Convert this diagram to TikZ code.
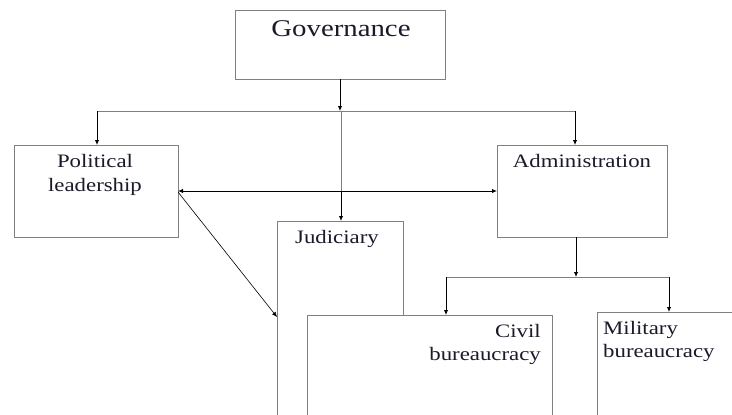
\documentclass[tikz,border=0pt]{standalone}
\usepackage{fontspec}
\setmainfont{Liberation Serif}[FakeStretch=1.2]
\usetikzlibrary{arrows.meta}
\definecolor{boxgray}{HTML}{808080}
\definecolor{txt}{HTML}{1A1A2A}
\tikzset{
  x=1pt, y=1pt,
  box/.style={draw=boxgray, line width=0.9pt, fill=white, inner sep=0pt, outer sep=0pt},
  lbl/.style={anchor=base, inner sep=0pt, text=txt, font=\fontsize{19}{22}\selectfont},
  big/.style={anchor=base, inner sep=0pt, text=txt, font=\fontsize{24}{28}\selectfont},
  conn/.style={draw=black, line width=0.9pt},
  feed/.style={draw=gray, line width=0.7pt},
  arr/.style={conn, -{Latex[length=5pt,width=4.5pt]}},
  darr/.style={conn, {Latex[length=5pt,width=4.5pt]}-{Latex[length=5pt,width=4.5pt]}},
}
\begin{document}
\begin{tikzpicture}
\useasboundingbox (0,0) rectangle (732,-415);
\clip (0,0) rectangle (732,-415);
% boxes
\node[box, minimum width=210, minimum height=69] (gov) at (340,-44.5) {};
\node[box, minimum width=164, minimum height=92] (pol) at (96,-191) {};
\node[box, minimum width=170, minimum height=92] (adm) at (582,-191) {};
\node[box, minimum width=126, minimum height=240] (jud) at (340,-341) {};
\node[box, minimum width=245, minimum height=140] (civ) at (429.5,-385) {};
\node[box, minimum width=170, minimum height=140] (mil) at (682,-382) {};
% texts
\node[big] (tgov) at (341,-36) {Governance};
\node[lbl] (tpol1) at (95,-167) {Political};
\node[lbl] (tpol2) at (95,-191) {leadership};
\node[lbl] (tadm) at (582,-167) {Administration};
\node[lbl] (tjud) at (337,-243) {Judiciary};
\node[lbl, anchor=base east] (tciv1) at (541,-337) {Civil};
\node[lbl, anchor=base east] (tciv2) at (541,-360) {bureaucracy};
\node[lbl, anchor=base west] (tmil1) at (603,-334) {Military};
\node[lbl, anchor=base west] (tmil2) at (603,-357) {bureaucracy};
% junction coordinates
\coordinate (g1) at (340,-111);
\coordinate (gl) at (97,-111);
\coordinate (gr) at (575,-111);
\coordinate (gm) at (341,-191);
\coordinate (a1) at (576,-277);
\coordinate (al) at (446,-277);
\coordinate (ar) at (669,-277);
% connectors from governance
\draw[arr] (gov.south -| g1) -- (g1);
\draw[feed] (gl) -- (gr);
\draw[arr] (gl) -- (gl |- pol.north);
\draw[arr] (gr) -- (gr |- adm.north);
\draw[feed] (341,-111) -- (gm);
\draw[arr] (gm) -- (gm |- jud.north);
% political <-> administration
\draw[darr] (pol.east) -- (adm.west);
% political -> judiciary
\draw[arr, line width=0.6pt] ([yshift=-1pt]pol.east) -- ([yshift=-96pt]jud.north west);
% administration branches
\draw[arr] (adm.south -| a1) -- (a1);
\draw[feed] (al) -- (ar);
\draw[arr] (al) -- (al |- civ.north);
\draw[arr] (ar) -- (ar |- mil.north);
\end{tikzpicture}
\end{document}
